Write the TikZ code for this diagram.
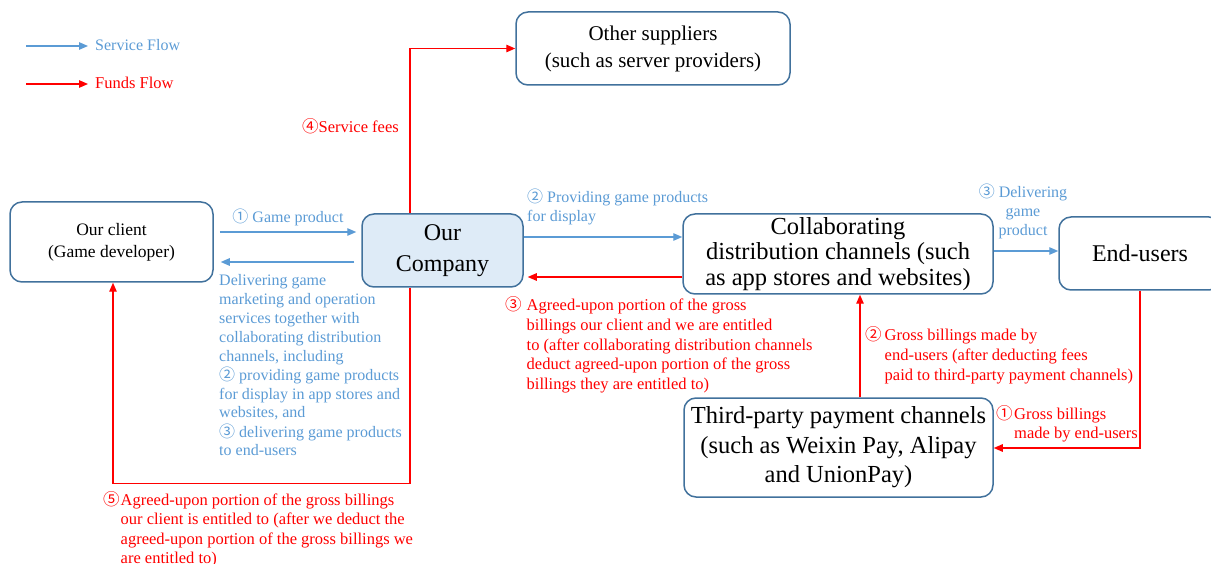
\documentclass[tikz,border=0pt]{standalone}
\usepackage{fontspec}
\setmainfont{Liberation Serif}
\newfontfamily\cjkfont{Noto Sans CJK SC}
\usetikzlibrary{arrows.meta}
\definecolor{sblue}{HTML}{5B9BD5}
\definecolor{fred}{HTML}{FF0000}
\definecolor{boxblue}{HTML}{41719C}
\definecolor{cofill}{HTML}{DEEBF7}
\newcommand{\cn}[1]{{\cjkfont #1}}
\newcommand{\lblock}[1]{\begin{tabular}[t]{@{}l@{}}#1\end{tabular}}
\newcommand{\cblock}[1]{\begin{tabular}[t]{@{}c@{}}#1\end{tabular}}
\newcommand{\hblock}[1]{\begin{tabular}[t]{@{}l@{}l@{}}#1\end{tabular}}
\tikzset{
  box/.style={draw=boxblue, line width=1.5pt, rounded corners=12pt, align=center, inner sep=0pt, text=black},
  sflow/.style={draw=sblue, line width=1.3pt, -{Triangle[length=9pt,width=7.5pt]}},
  fflow/.style={draw=fred, line width=1.3pt, -{Triangle[length=9pt,width=7.5pt]}},
  slabel/.style={text=sblue, font=\fontsize{16}{18.8}\selectfont, inner sep=0pt},
  flabel/.style={text=fred, font=\fontsize{16.5}{19.6}\selectfont, inner sep=0pt},
}
\begin{document}
\begin{tikzpicture}[x=1pt, y=-1pt]
\path[use as bounding box] (0,0) rectangle (1211,564);
\clip (0,0) rectangle (1211,564);

% legend
\coordinate (ls1) at (26,46);
\coordinate (ls2) at (88,46);
\coordinate (lf1) at (26,84);
\coordinate (lf2) at (88,84);
\draw[sflow] (ls1) -- (ls2);
\draw[fflow] (lf1) -- (lf2);
\node[slabel, anchor=base west] (lst) at (95,50.5) {Service Flow};
\node[flabel, anchor=base west] (lft) at (95,88.5) {Funds Flow};

% boxes
\node[box, minimum width=203pt, minimum height=80pt, font=\fontsize{17.5}{22}\selectfont] (client) at (111.5,242) {Our client\\(Game developer)};
\node[box, fill=cofill, minimum width=161pt, minimum height=73pt, font=\fontsize{24}{31}\selectfont] (company) at (442.5,250.5) {Our\\Company};
\node[box, minimum width=274pt, minimum height=73pt, font=\fontsize{21}{27}\selectfont] (other) at (653,48.5) {Other suppliers\\(such as server providers)};
\node[box, minimum width=310pt, minimum height=80pt, font=\fontsize{24.5}{25.5}\selectfont] (collab) at (838,254) {Collaborating\\distribution channels (such\\as app stores and websites)};
\node[box, minimum width=162pt, minimum height=73pt, font=\fontsize{24}{29}\selectfont] (end) at (1140,253.5) {End-users};
\node[box, minimum width=309pt, minimum height=99pt, font=\fontsize{24.5}{29.5}\selectfont] (third) at (838.5,447.5) {Third-party payment channels\\(such as Weixin Pay, Alipay\\and UnionPay)};

% service flows
\draw[sflow, shorten <=6pt, shorten >=5pt] (client.east |- 0,232) -- (company.west |- 0,232);
\draw[sflow, shorten <=7pt, shorten >=7pt] (company.west |- 0,262) -- (client.east |- 0,262);
\draw[sflow] (company.east |- 0,237) -- (collab.west |- 0,237);
\draw[sflow] (collab.east |- 0,251) -- (end.west |- 0,251);

% funds flows
\draw[fflow, shorten >=4pt] (collab.west |- 0,277) -- (company.east |- 0,277);
\draw[fflow] (company.north -| 410,0) |- (other.west);
\draw[fflow] (company.south -| 410,0) -- ++(0,196) -| (client.south -| 113,0);
\draw[fflow] (third.north -| 860,0) -- (collab.south -| 860,0);
\draw[fflow] (end.south) |- (third.east |- 0,448);

% labels
\node[slabel, anchor=base] (l1) at (288,223) {\cn{①} Game product};
\node[slabel, anchor=base west] (ldel) at (219,286) {\lblock{Delivering game\\marketing and operation\\services together with\\collaborating distribution\\channels, including\\\cn{②} providing game products\\for display in app stores and\\websites, and\\\cn{③} delivering game products\\to end-users}};
\node[slabel, anchor=base west] (l2) at (527,203) {\lblock{\cn{②} Providing game products\\for display}};
\node[slabel, anchor=base] (l3) at (1023,198) {\cblock{\cn{③} Delivering\\game\\product}};
\node[flabel, anchor=base east] (l4) at (399,133) {\cn{④}Service fees};
\node[flabel, anchor=base west] (l5) at (103,505) {\hblock{\cn{⑤}\kern1pt&Agreed-upon portion of the gross billings\\&our client is entitled to (after we deduct the\\&agreed-upon portion of the gross billings we\\&are entitled to)}};
\node[flabel, anchor=base west] (r3) at (505,311) {\hblock{\cn{③}\kern5pt&Agreed-upon portion of the gross\\&billings our client and we are entitled\\&to (after collaborating distribution channels\\&deduct agreed-upon portion of the gross\\&billings they are entitled to)}};
\node[flabel, anchor=base west] (r2) at (865,341) {\hblock{\cn{②}\kern3pt&Gross billings made by\\&end-users (after deducting fees\\&paid to third-party payment channels)}};
\node[flabel, anchor=base west] (r1) at (996,419) {\hblock{\cn{①}\kern1.5pt&Gross billings\\&made by end-users}};
\end{tikzpicture}
\end{document}
